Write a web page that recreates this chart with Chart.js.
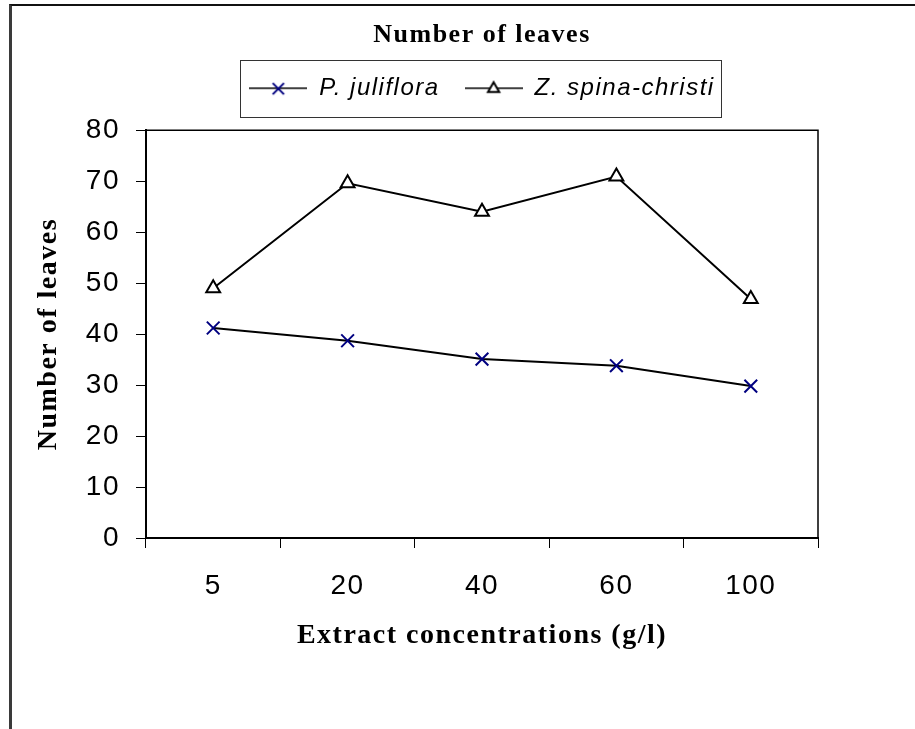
<!DOCTYPE html>
<html>
<head>
<meta charset="utf-8">
<script src="https://cdn.jsdelivr.net/npm/chart.js@4.4.1/dist/chart.umd.min.js"></script>
<style>
  html, body { margin: 0; padding: 0; background: #fff; }
  #wrap { position: relative; width: 915px; height: 729px; overflow: hidden; }
  #wrap canvas { position: absolute; left: 0; top: 0; }
  #frame {
    position: absolute; left: 9px; top: 4px; right: 0; bottom: 0;
    border-top: 2px solid #111; border-left: 3px solid #3a3a3a;
    pointer-events: none;
  }
</style>
</head>
<body>
<div id="wrap">
  <canvas id="chart" width="915" height="729"></canvas>
  <div id="frame"></div>
</div>
<script>
// extract concentration (g/l) on the x axis
const concentrations = ["5", "20", "40", "60", "100"];
// mean number of leaves per seedling
const juliflora = [41.2, 38.7, 35.1, 33.8, 29.8];
const spinaChristi = [49.0, 69.6, 64.0, 70.9, 46.9];
// y axis range
const yMin = 0;
const yMax = 80;
const yStep = 10;

const sans = "'Liberation Sans', Arial, sans-serif";
const serif = "'Liberation Serif', 'Times New Roman', serif";

// legend swatch: short black line with the series marker in the middle
const legendSymbol = (pointStyle, radius, stroke, fill) => {
  const c = document.createElement("canvas");
  c.width = 58;
  c.height = 20;
  const g = c.getContext("2d");
  g.strokeStyle = "#000";
  g.lineWidth = 1.5;
  g.beginPath();
  g.moveTo(0, 10);
  g.lineTo(58, 10);
  g.stroke();
  g.strokeStyle = stroke;
  g.fillStyle = fill;
  g.lineWidth = 2;
  Chart.helpers.drawPoint(g, { pointStyle, radius, borderWidth: 2, rotation: 0 }, 29, 10.5);
  return c;
};

const symbols = [
  legendSymbol("crossRot", 8, "#000080", "#000080"),
  legendSymbol("triangle", 6.5, "#000", "#fff"),
];

// slightly spread lettering
const spacedText = {
  id: "spacedText",
  beforeLayout(chart) { chart.ctx.letterSpacing = "1.5px"; },
  beforeDraw(chart) { chart.ctx.letterSpacing = "1.5px"; },
};

// top and right edges of the plot box
const plotFrame = {
  id: "plotFrame",
  beforeDatasetsDraw(chart) {
    const { ctx, chartArea: a } = chart;
    ctx.save();
    ctx.strokeStyle = "#000";
    ctx.lineWidth = 1.5;
    ctx.beginPath();
    ctx.moveTo(a.left, a.top);
    ctx.lineTo(a.right, a.top);
    ctx.lineTo(a.right, a.bottom);
    ctx.stroke();
    ctx.restore();
  },
};

// thin box around the legend items
const legendFrame = {
  id: "legendFrame",
  afterDraw(chart) {
    const boxes = chart.legend && chart.legend.legendHitBoxes;
    if (!boxes || !boxes.length) return;
    const left = Math.min(...boxes.map((b) => b.left)) - 9;
    const right = Math.max(...boxes.map((b) => b.left + b.width)) + 7;
    const cy = boxes[0].top + boxes[0].height / 2;
    const ctx = chart.ctx;
    ctx.save();
    ctx.strokeStyle = "#333";
    ctx.lineWidth = 1;
    ctx.strokeRect(Math.round(left) + 0.5, Math.round(cy - 28) + 0.5, Math.round(right - left), 57);
    ctx.restore();
  },
};

new Chart(document.getElementById("chart"), {
  type: "line",
  data: {
    labels: concentrations,
    datasets: [
      {
        label: "P. juliflora",
        data: juliflora,
        borderColor: "#000",
        borderWidth: 2,
        tension: 0,
        pointStyle: "crossRot",
        pointRadius: 9,
        pointBorderWidth: 2,
        pointBorderColor: "#000080",
        pointBackgroundColor: "#000080",
      },
      {
        label: "Z. spina-christi",
        data: spinaChristi,
        borderColor: "#000",
        borderWidth: 2,
        tension: 0,
        pointStyle: "triangle",
        pointRadius: 8,
        pointBorderWidth: 2,
        pointBorderColor: "#000",
        pointBackgroundColor: "#fff",
      },
    ],
  },
  options: {
    responsive: false,
    animation: false,
    devicePixelRatio: 1,
    layout: { padding: { left: 10, right: 97, top: 0, bottom: 76 } },
    plugins: {
      tooltip: { enabled: false },
      title: {
        display: true,
        fullSize: false,
        text: "Number of leaves",
        color: "#000",
        font: { family: serif, size: 26, weight: "bold" },
        padding: { top: 20, bottom: 0 },
      },
      subtitle: {
        display: true,
        text: "",
        fullSize: false,
        weight: 500,
        font: { size: 20, lineHeight: 1 },
        padding: 0,
      },
      legend: {
        fullSize: false,
        labels: {
          usePointStyle: true,
          pointStyleWidth: 58,
          padding: 25,
          color: "#000",
          font: { family: sans, size: 24, style: "italic" },
          generateLabels: (chart) =>
            chart.data.datasets.map((ds, i) => ({
              text: ds.label,
              datasetIndex: i,
              pointStyle: symbols[i],
              rotation: 0,
              lineWidth: 0,
              hidden: false,
              fontColor: "#000",
            })),
        },
      },
    },
    scales: {
      x: {
        offset: true,
        grid: { offset: true, drawOnChartArea: false, drawTicks: true, tickLength: 10, color: "#000" },
        border: { display: true, color: "#000", width: 2 },
        ticks: { color: "#000", padding: 21, maxRotation: 0, autoSkip: false, font: { family: sans, size: 28 } },
        title: {
          display: true,
          text: "Extract concentrations (g/l)",
          color: "#000",
          font: { family: serif, size: 28, weight: "bold" },
          padding: { top: 0, bottom: 0 },
        },
        afterFit: (s) => { s.height = 115; },
      },
      y: {
        min: yMin,
        max: yMax,
        grid: { drawOnChartArea: false, drawTicks: true, tickLength: 10, color: "#000" },
        border: { display: true, color: "#000", width: 2 },
        ticks: { stepSize: yStep, color: "#000", padding: 16, font: { family: sans, size: 28 } },
        title: {
          display: true,
          text: "Number of leaves",
          color: "#000",
          font: { family: serif, size: 28, weight: "bold" },
          padding: { top: 22, bottom: 0 },
        },
        afterFit: (s) => { s.width = 136; },
      },
    },
  },
  plugins: [spacedText, plotFrame, legendFrame],
});
</script>
</body>
</html>
